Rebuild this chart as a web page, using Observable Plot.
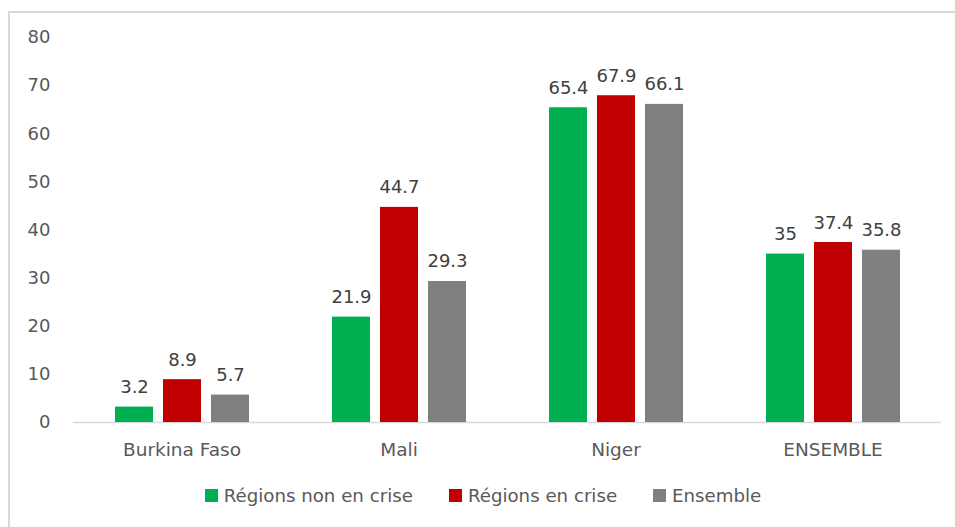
<!DOCTYPE html>
<html>
<head>
<meta charset="utf-8">
<script src="https://cdn.jsdelivr.net/npm/d3@7"></script>
<script src="https://cdn.jsdelivr.net/npm/@observablehq/plot@0.6"></script>
<style>
  html, body { margin: 0; padding: 0; background: #fff; }
  body { width: 955px; height: 527px; position: relative; overflow: hidden; }
  #frame { position: absolute; left: 8px; top: 11px; width: 960px; height: 530px;
           border-top: 2px solid #d9d9d9; border-left: 2px solid #d9d9d9; box-sizing: border-box; }
  #chart { position: absolute; left: 0; top: 0; }
  #legend { position: absolute; left: 11px; top: 485px; width: 944px; display: flex; justify-content: center;
            font-family: "DejaVu Sans", sans-serif; font-size: 18.2px; color: #595959; }
  .item { display: flex; align-items: center; margin: 0 18px; }
  .sw { width: 13px; height: 13px; margin-right: 6px; }
</style>
</head>
<body>
<div id="frame"></div>
<div id="chart"></div>
<div id="legend"></div>
<script>
const categories = ["Burkina Faso", "Mali", "Niger", "ENSEMBLE"];
const series = ["Régions non en crise", "Régions en crise", "Ensemble"];
const colors = ["#00B050", "#C00000", "#808080"];
const nonCrise = [3.2, 21.9, 65.4, 35];
const enCrise = [8.9, 44.7, 67.9, 37.4];
const ensemble = [5.7, 29.3, 66.1, 35.8];
const yTicks = [0, 10, 20, 30, 40, 50, 60, 70, 80];

const valuesBySeries = [nonCrise, enCrise, ensemble];
const data = [];
categories.forEach((c, i) => {
  series.forEach((s, j) => data.push({category: c, series: s, value: valuesBySeries[j][i]}));
});

const plot = Plot.plot({
  width: 955,
  height: 470,
  marginTop: 37,
  marginBottom: 48,
  marginLeft: 73,
  marginRight: 14,
  style: {fontFamily: "DejaVu Sans, sans-serif", color: "#595959", background: "transparent"},
  fx: {domain: categories, paddingInner: 0, paddingOuter: 0, label: null},
  x: {domain: series, paddingInner: 0.216, paddingOuter: 0.845, axis: null},
  y: {domain: [0, 80], ticks: yTicks, label: null},
  color: {domain: series, range: colors},
  marks: [
    Plot.axisY({ticks: yTicks, tickSize: 0, tickPadding: 23, fontSize: 18, label: null, fill: "#595959"}),
    Plot.axisFx({anchor: "bottom", tickSize: 0, tickPadding: 20, fontSize: 18.5, label: null, fill: "#595959"}),
    Plot.ruleY([0], {stroke: "#d9d9d9", strokeWidth: 1.5}),
    Plot.barY(data, {fx: "category", x: "series", y: "value", fill: "series"}),
    Plot.text(data, {fx: "category", x: "series", y: "value", text: d => String(d.value),
      lineAnchor: "bottom", dy: -14, fontSize: 18, fill: "#404040"})
  ]
});
document.getElementById("chart").appendChild(plot);

const legend = d3.select("#legend");
series.forEach((s, j) => {
  const it = legend.append("div").attr("class", "item");
  it.append("div").attr("class", "sw").style("background", colors[j]);
  it.append("span").text(s);
});
</script>
</body>
</html>
